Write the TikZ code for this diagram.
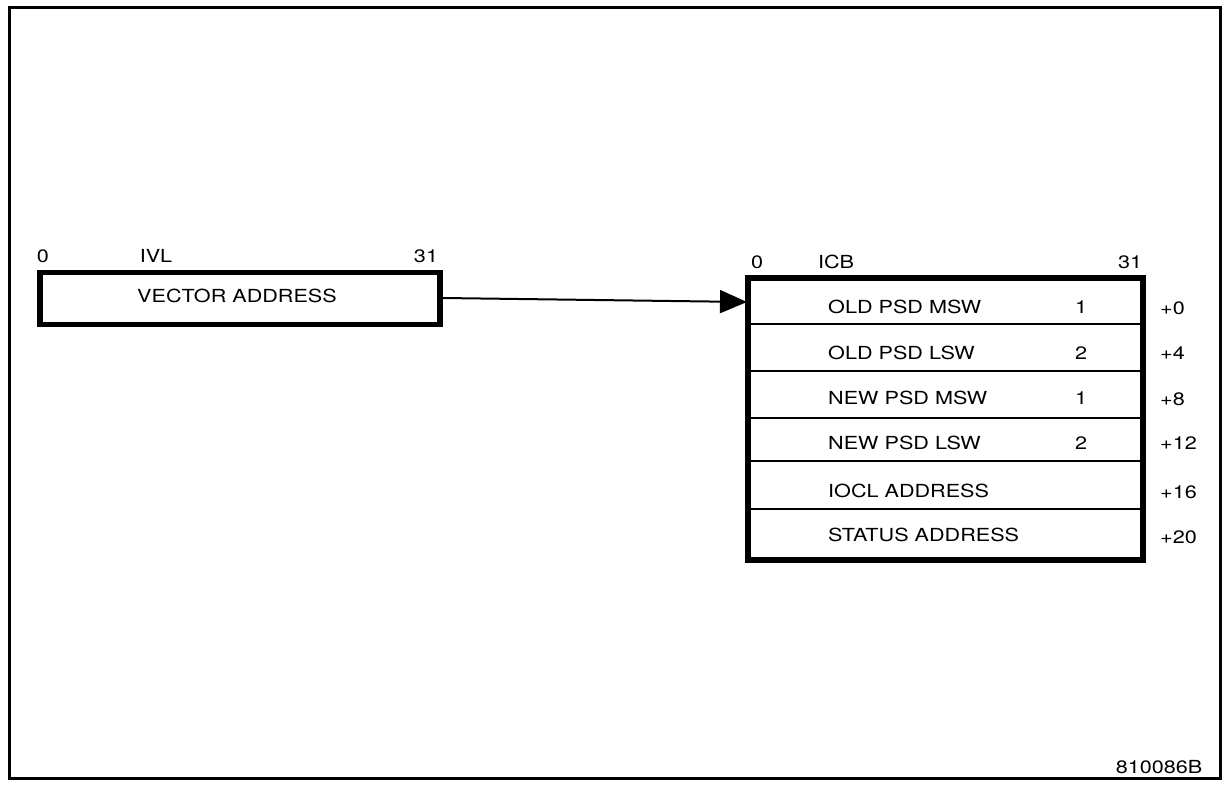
\documentclass[tikz,border=0pt]{standalone}
\usepackage{fontspec}
\setmainfont{TeX Gyre Heros}[FakeStretch=1.2]
\usetikzlibrary{arrows.meta}
\begin{document}
\begin{tikzpicture}[x=1pt,y=-1pt,
  lbl/.style={font=\fontsize{18}{20}\selectfont, inner sep=0pt},
  rowbox/.style={draw, line width=2.2pt, minimum width=393pt, anchor=north west, inner sep=0pt},
  thickbox/.style={line width=5.5pt},
  conn/.style={line width=2pt, -{Triangle[length=27pt,width=23pt]}}
]
\useasboundingbox (0,0) rectangle (1227,786);
\draw[line width=3pt] (9,8) rectangle (1220,778);

% IVL word
\node[draw, line width=5.5pt, minimum width=400pt, minimum height=52pt, anchor=north west, inner sep=0pt] (ivl) at (37,270) {};
\node[lbl] (ivltxt) at (237,296) {VECTOR ADDRESS};
\node[lbl] (ivl0) at (43,256) {0};
\node[lbl] (ivlname) at (156,256) {IVL};
\node[lbl] (ivl31) at (426,256) {31};

% ICB
\node[rowbox, minimum height=45pt] (r1) at (748,278) {};
\node[rowbox, minimum height=47pt] (r2) at (748,323) {};
\node[rowbox, minimum height=47pt] (r3) at (748,370) {};
\node[rowbox, minimum height=43pt] (r4) at (748,417) {};
\node[rowbox, minimum height=48pt] (r5) at (748,460) {};
\node[rowbox, minimum height=50pt] (r6) at (748,508) {};
\draw[thickbox] (r1.north west) rectangle (r6.south east);

\node[lbl] (icb0) at (757,262) {0};
\node[lbl] (icbname) at (836,262) {ICB};
\node[lbl] (icb31) at (1130,262) {31};

\node[lbl, anchor=west] (t1) at (828,307) {OLD PSD MSW};
\node[lbl, anchor=west] (t2) at (828,353) {OLD PSD LSW};
\node[lbl, anchor=west] (t3) at (828,398) {NEW PSD MSW};
\node[lbl, anchor=west] (t4) at (828,443) {NEW PSD LSW};
\node[lbl, anchor=west] (t5) at (828,491) {IOCL ADDRESS};
\node[lbl, anchor=west] (t6) at (828,535) {STATUS ADDRESS};

\node[lbl] (n1) at (1081,307) {1};
\node[lbl] (n2) at (1081,353) {2};
\node[lbl] (n3) at (1081,398) {1};
\node[lbl] (n4) at (1081,443) {2};

\node[lbl, anchor=west] (o1) at (1160,308) {+0};
\node[lbl, anchor=west] (o2) at (1160,353) {+4};
\node[lbl, anchor=west] (o3) at (1160,399) {+8};
\node[lbl, anchor=west] (o4) at (1160,443) {+12};
\node[lbl, anchor=west] (o5) at (1160,492) {+16};
\node[lbl, anchor=west] (o6) at (1160,537) {+20};

\node[lbl] (code) at (1159,767) {810086B};

\coordinate (tip) at (747,302);
\draw[conn] (ivl.east |- 0,298) -- (tip);
\end{tikzpicture}
\end{document}
